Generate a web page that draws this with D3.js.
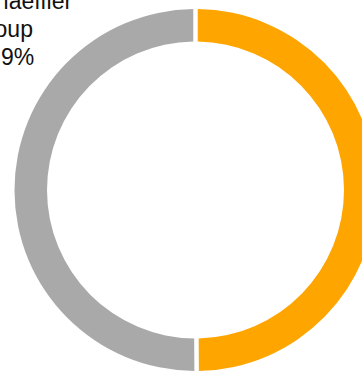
<!DOCTYPE html>
<html>
<head>
<meta charset="utf-8">
<script src="https://cdn.jsdelivr.net/npm/d3@7"></script>
<style>
  html, body { margin: 0; padding: 0; background: #fff; overflow: hidden; }
  svg { display: block; }
</style>
</head>
<body>
<svg id="chart" width="362" height="372"></svg>
<script>
const categories = ["Schaeffler Group", "Free Float"];
const shares = [49.9, 50.1];
const colors = ["#FFA500", "#A9A9A9"];
const labelLines = ["Schaeffler", "Group", "49.9%"];

const svg = d3.select("#chart");
const cx = 195.5, cy = 190, outerR = 181, innerR = 148.5;

const pie = d3.pie().sort(null).value(d => d.v);
const arcs = pie(categories.map((c, i) => ({ c, v: shares[i], color: colors[i] })));
const arc = d3.arc()
  .innerRadius(innerR)
  .outerRadius(outerR)
  .padAngle(4.5 / outerR)
  .padRadius(outerR);

const g = svg.append("g").attr("transform", `translate(${cx},${cy})`);
g.selectAll("path").data(arcs).join("path")
  .attr("d", arc)
  .attr("fill", d => d.data.color);

const label = svg.append("text")
  .attr("x", -31)
  .attr("y", 9)
  .attr("font-family", "Liberation Sans, Arial, sans-serif")
  .attr("font-size", 23)
  .attr("fill", "#111");
label.selectAll("tspan").data(labelLines).join("tspan")
  .attr("x", -31)
  .attr("dy", (d, i) => i === 0 ? 0 : 28)
  .text(d => d);
</script>
</body>
</html>
